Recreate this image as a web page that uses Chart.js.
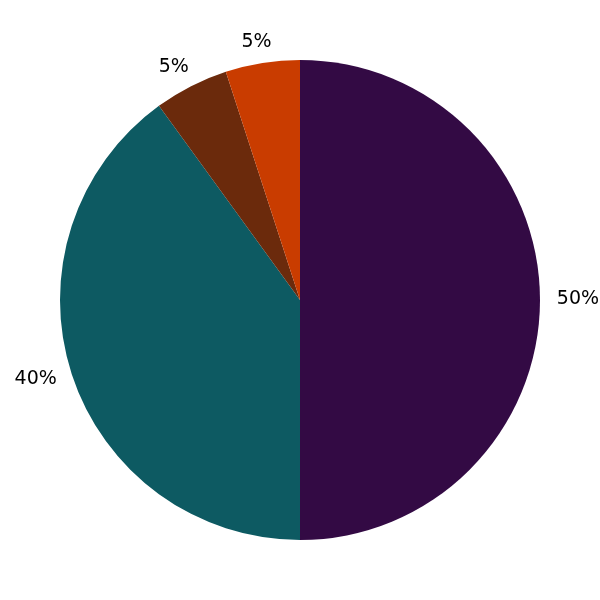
<!DOCTYPE html>
<html>
<head>
<meta charset="utf-8">
<script src="https://cdn.jsdelivr.net/npm/chart.js@4"></script>
<style>
  body { margin: 0; background: #fff; }
</style>
</head>
<body>
<canvas id="chart" width="600" height="600"></canvas>
<script>
// slice shares, clockwise from 12 o'clock
const labels = ['A', 'B', 'C', 'D'];
const values = [50, 40, 5, 5];
const colors = ['#330a44', '#0d5a62', '#6b2a0c', '#c93c00'];

// percent labels outside each slice
const pctLabels = {
    id: 'pctLabels',
    afterDatasetsDraw(chart) {
        const ctx = chart.ctx;
        const total = values.reduce((a, b) => a + b, 0);
        ctx.save();
        ctx.font = '19px "DejaVu Sans"';
        ctx.fillStyle = '#000';
        ctx.textAlign = 'center';
        ctx.textBaseline = 'middle';
        chart.getDatasetMeta(0).data.forEach((arc, i) => {
            const p = arc.getProps(['x', 'y', 'startAngle', 'endAngle', 'outerRadius'], true);
            const mid = (p.startAngle + p.endAngle) / 2;
            const pct = Math.round(values[i] / total * 100) + '%';
            const tx = p.x + p.outerRadius * 1.158 * Math.cos(mid);
            const ty = p.y + p.outerRadius * 1.083 * Math.sin(mid) - 1;
            ctx.fillText(pct, tx, ty);
        });
        ctx.restore();
    }
};

new Chart(document.getElementById('chart').getContext('2d'), {
    type: 'pie',
    data: {
        labels: labels,
        datasets: [{
            data: values,
            backgroundColor: colors,
            borderWidth: 0
        }]
    },
    options: {
        responsive: false,
        animation: false,
        layout: { padding: 60 },
        plugins: {
            legend: { display: false },
            tooltip: { enabled: false }
        }
    },
    plugins: [pctLabels]
});
</script>
</body>
</html>
